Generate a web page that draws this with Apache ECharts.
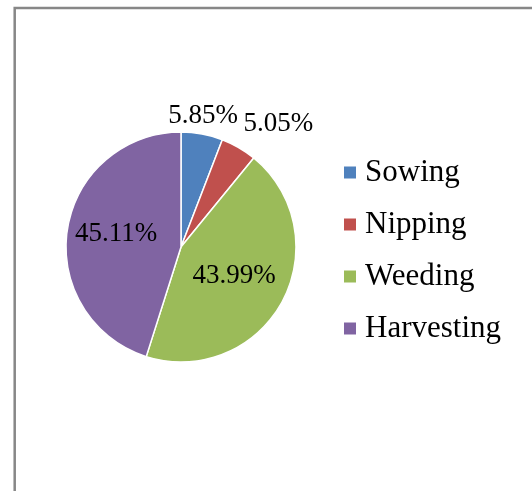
<!DOCTYPE html>
<html>
<head>
<meta charset="utf-8">
<script src="https://cdn.jsdelivr.net/npm/echarts@6/dist/echarts.min.js"></script>
<style>
  html, body { margin: 0; padding: 0; background: #fff; }
  #chart { width: 532px; height: 491px; }
</style>
</head>
<body>
<div id="chart"></div>
<script>
// Share of labour by farm operation (%)
const categories = ['Sowing', 'Nipping', 'Weeding', 'Harvesting'];
const shares = [5.85, 5.05, 43.99, 45.11];
const colors = ['#4F81BD', '#C0504D', '#9BBB59', '#8064A2'];

// Small slices carry their labels just outside the rim
const labelOffsets = [[11, -72], [67, -71], [0, 0], [-5, -4]];

const font = "'Liberation Serif', 'Times New Roman', serif";

const chart = echarts.init(document.getElementById('chart'), null, { renderer: 'canvas' });

chart.setOption({
  backgroundColor: '#ffffff',
  animation: false,
  graphic: [{
    type: 'rect',
    shape: { x: 14.7, y: 8, width: 700, height: 700 },
    style: { fill: 'none', stroke: '#878787', lineWidth: 2.5 },
    silent: true
  }],
  legend: {
    orient: 'vertical',
    left: 342,
    top: 157,
    padding: 0,
    itemWidth: 14,
    itemHeight: 14,
    itemGap: 21,
    icon: 'rect',
    textStyle: {
      fontFamily: font,
      fontSize: 31,
      lineHeight: 30,
      color: '#000',
      padding: [0, 0, 0, 3]
    },
    data: categories
  },
  series: [{
    type: 'pie',
    center: [181, 247],
    radius: 115,
    startAngle: 90,
    clockwise: true,
    avoidLabelOverlap: false,
    itemStyle: { borderColor: '#ffffff', borderWidth: 1.5 },
    label: {
      show: true,
      position: 'inside',
      fontFamily: font,
      fontSize: 27,
      color: '#000',
      formatter: p => p.value.toFixed(2) + '%'
    },
    labelLine: { show: false },
    emphasis: { disabled: true },
    data: categories.map((name, i) => ({
      name: name,
      value: shares[i],
      itemStyle: { color: colors[i] },
      label: { offset: labelOffsets[i] }
    }))
  }]
});
</script>
</body>
</html>
